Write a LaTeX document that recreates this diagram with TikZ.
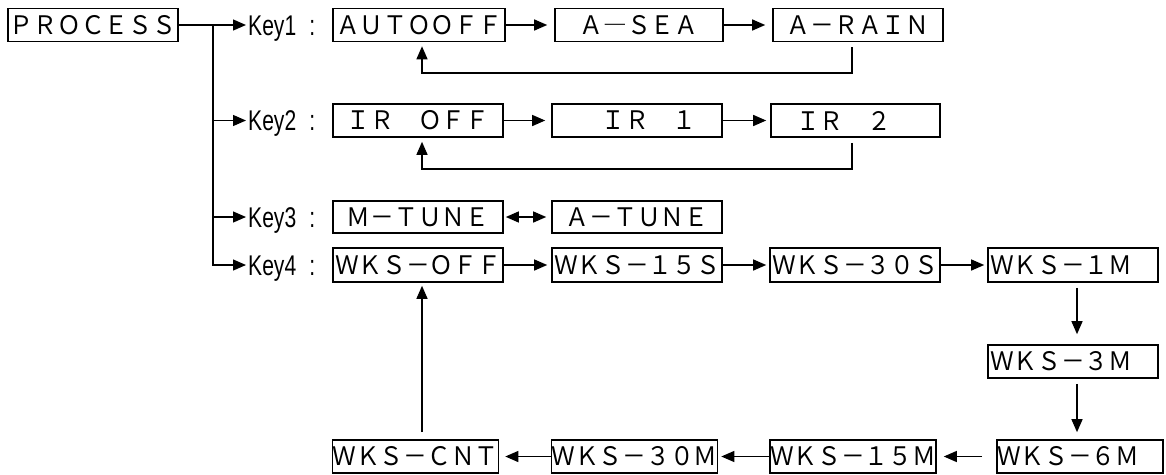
\documentclass[tikz,border=0pt]{standalone}
\usepackage{fontspec}
\newfontfamily\jfont[FakeStretch=0.93]{Noto Sans CJK JP}
\newfontfamily\keyfont[FakeStretch=0.74]{Liberation Sans}
\usetikzlibrary{arrows.meta}
\begin{document}
\begin{tikzpicture}[x=1pt,y=-1pt,
  box/.style={draw, line width=1.6pt, minimum height=33pt, minimum width=170pt, inner sep=0pt,
    font=\jfont\fontsize{25.5}{26}\selectfont},
  keylab/.style={anchor=west, inner sep=0pt, text height=20pt, text depth=0pt,
    font=\keyfont\fontsize{28.5}{29}\selectfont},
  arr/.style={-{Triangle[length=13pt,width=11pt]}, line width=1.3pt},
  darr/.style={{Triangle[length=13pt,width=11pt]}-{Triangle[length=13pt,width=11pt]}, line width=1.3pt}]
\useasboundingbox (0,0) rectangle (1166,474);
% boxes
\node[box, minimum width=170pt] (process) at (93,25) {ＰＲＯＣＥＳＳ};
\node[box, minimum width=172pt] (autooff) at (419,25) {ＡＵＴＯＯＦＦ};
\node[box, minimum width=168pt] (asea) at (639,25) {Ａ―ＳＥＡ};
\node[box] (arain) at (858,25) {Ａ－ＲＡＩＮ};
\node[box] (iroff) at (418,120.5) {ＩＲ　ＯＦＦ};
\node[box] (ir1) at (637,120.5) {　ＩＲ　１};
\node[box, minimum width=169pt] (ir2) at (855.5,120.5) {ＩＲ　２　};
\node[box, minimum height=32pt] (mtune) at (418,217) {Ｍ－ＴＵＮＥ};
\node[box, minimum height=32pt] (atune) at (637,217) {Ａ－ＴＵＮＥ};
\node[box, minimum height=34pt] (wksoff) at (418,265) {ＷＫＳ－ＯＦＦ};
\node[box, minimum height=34pt] (wks15s) at (637,265) {ＷＫＳ－１５Ｓ};
\node[box, minimum height=34pt] (wks30s) at (855,265) {ＷＫＳ－３０Ｓ};
\node[box, minimum height=34pt] (wks1m) at (1073,265) {ＷＫＳ－１Ｍ　};
\node[box] (wks3m) at (1073,361.5) {ＷＫＳ－３Ｍ　};
\node[box, minimum width=166pt] (wks6m) at (1080,456.5) {ＷＫＳ－６Ｍ　};
\node[box, minimum width=166pt] (wks15m) at (853,456.5) {ＷＫＳ－１５Ｍ};
\node[box, minimum width=165pt] (wks30m) at (634.5,456.5) {ＷＫＳ－３０Ｍ};
\node[box, minimum width=165pt] (wkscnt) at (415.5,456.5) {ＷＫＳ－ＣＮＴ};
% key labels
\node[keylab] (key1) at (248,25) {Key1\hspace{13pt}:};
\node[keylab] (key2) at (248,120.5) {Key2\hspace{13pt}:};
\node[keylab] (key3) at (248,217) {Key3\hspace{13pt}:};
\node[keylab] (key4) at (248,265) {Key4\hspace{13pt}:};
% branch
\coordinate (br) at (213,25);
\draw[arr, shorten >=2pt] (process.east) -- (key1.west);
\draw[arr, shorten >=2pt] (br) |- (key2.west);
\draw[arr, shorten >=2pt] (br) |- (key3.west);
\draw[arr, shorten >=2pt] (br) |- (key4.west);
% row 1
\draw[arr, shorten >=7pt] (autooff.east) -- (asea.west);
\draw[arr, shorten >=7pt] (asea.east) -- (arain.west);
\coordinate (r1) at (852,73);
\coordinate (l1) at (422,73);
\draw[arr, shorten <=5pt, shorten >=4pt] (arain.south -| r1) -- (r1) -- (l1) -- (autooff.south -| l1);
% row 2
\draw[arr, shorten >=6pt] (iroff.east) -- (ir1.west);
\draw[arr, shorten >=4pt] (ir1.east) -- (ir2.west);
\coordinate (r2) at (852,169);
\coordinate (l2) at (422,169);
\draw[arr, shorten <=5pt, shorten >=4pt] (ir2.south -| r2) -- (r2) -- (l2) -- (iroff.south -| l2);
% row 3
\draw[darr, shorten <=2pt, shorten >=5pt] (mtune.east) -- (atune.west);
% row 4
\draw[arr, shorten >=4pt] (wksoff.east) -- (wks15s.west);
\draw[arr, shorten >=3pt] (wks15s.east) -- (wks30s.west);
\draw[arr, shorten >=3pt] (wks30s.east) -- (wks1m.west);
\coordinate (dc) at (1077,300);
\draw[arr, shorten <=5pt, shorten >=10pt] (wks1m.south -| dc) -- (wks3m.north -| dc);
\draw[arr, shorten <=5pt, shorten >=7pt] (wks3m.south -| dc) -- (wks6m.north -| dc);
\draw[arr, shorten <=14pt, shorten >=7pt] (wks6m.west) -- (wks15m.east);
\draw[arr, shorten >=3pt] (wks15m.west) -- (wks30m.east);
\draw[arr, shorten >=6pt] (wks30m.west) -- (wkscnt.east);
\draw[arr, shorten <=7pt, shorten >=3pt] (wkscnt.north -| l1) -- (wksoff.south -| l1);
\end{tikzpicture}
\end{document}
